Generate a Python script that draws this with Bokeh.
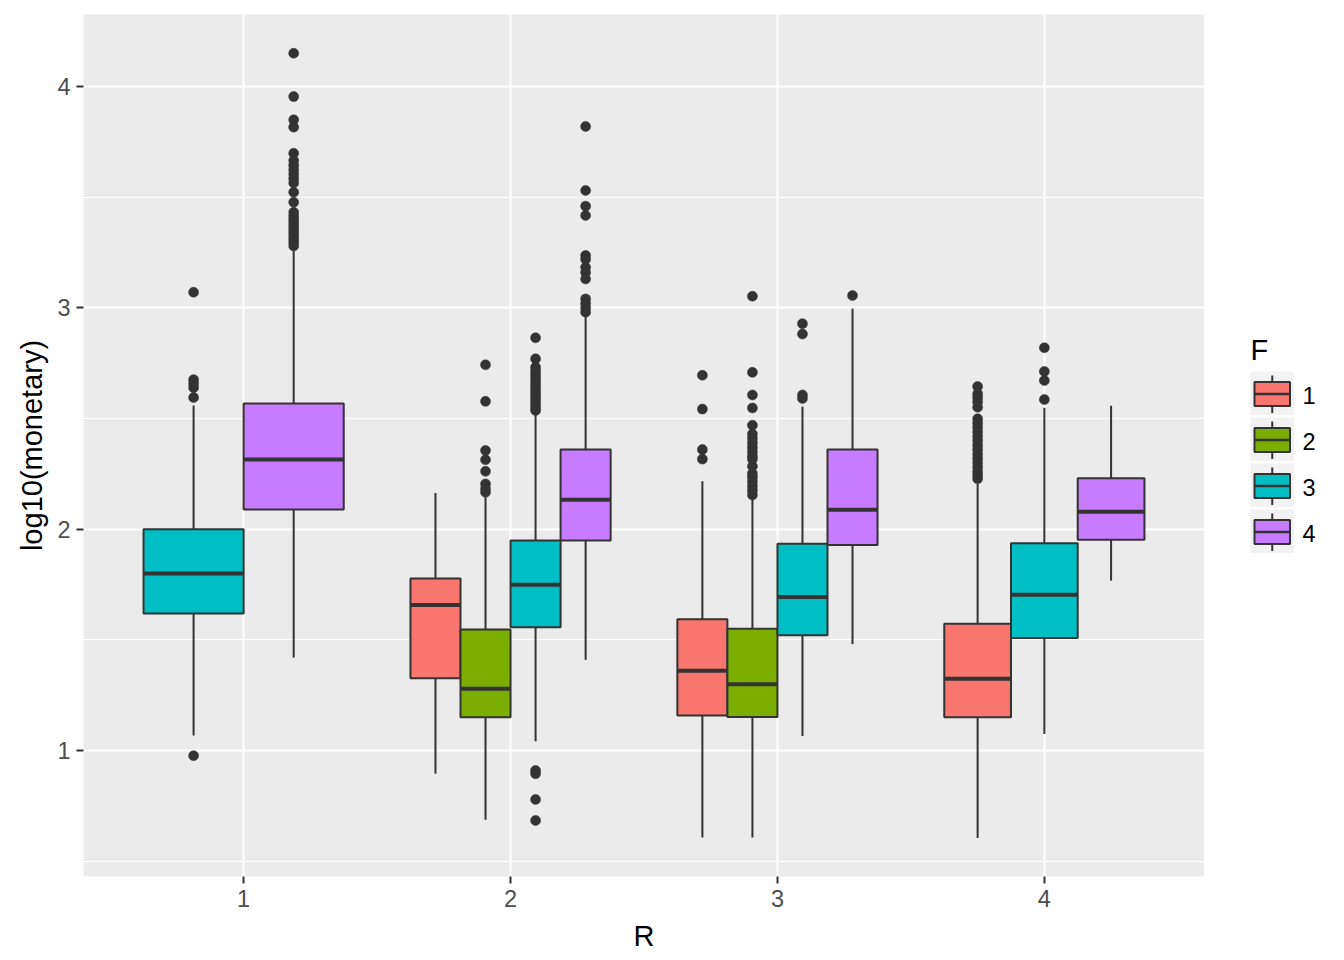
from bokeh.plotting import figure
from bokeh.models import Range1d, FixedTicker, ColumnDataSource
from bokeh.layouts import row
from bokeh.core.properties import value
from bokeh.embed import file_html
from bokeh.resources import INLINE

# ---- data ----
R_levels = ["1", "2", "3", "4"]
F_levels = ["1", "2", "3", "4"]
F_colors = ["#F8766D", "#7CAE00", "#00BFC4", "#C77CFF"]

box_R = [1, 1, 2, 2, 2, 2, 3, 3, 3, 3, 4, 4, 4]
box_F = [3, 4, 1, 2, 3, 4, 1, 2, 3, 4, 1, 3, 4]
lower = [1.068, 1.420, 0.895, 0.687, 1.042, 1.410, 0.607, 0.607, 1.066, 1.481, 0.605, 1.075, 1.768]
q1 = [1.619, 2.089, 1.327, 1.151, 1.557, 1.949, 1.158, 1.152, 1.521, 1.929, 1.151, 1.509, 1.953]
median = [1.800, 2.315, 1.658, 1.279, 1.749, 2.133, 1.361, 1.300, 1.694, 2.088, 1.324, 1.704, 2.079]
q3 = [2.000, 2.568, 1.778, 1.547, 1.949, 2.360, 1.593, 1.550, 1.934, 2.360, 1.573, 1.937, 2.230]
upper = [2.559, 3.270, 2.164, 2.145, 2.529, 2.975, 2.217, 2.148, 2.554, 2.997, 2.205, 2.549, 2.558]
outliers = [
    [3.071, 2.676, 2.658, 2.640, 2.595, 0.977],
    [4.151, 3.955, 3.850, 3.817, 3.699, 3.666, 3.645, 3.625, 3.605, 3.585, 3.565, 3.523,
     3.478, 3.432, 3.415, 3.400, 3.385, 3.370, 3.355, 3.340, 3.325, 3.310, 3.295, 3.280],
    [],
    [2.743, 2.578, 2.356, 2.314, 2.262, 2.205, 2.183, 2.167],
    [2.865, 2.770, 2.732, 2.715, 2.700, 2.685, 2.670, 2.655, 2.640, 2.625, 2.610, 2.595,
     2.580, 2.565, 2.550, 2.537, 0.910, 0.895, 0.779, 0.684],
    [3.820, 3.531, 3.460, 3.418, 3.237, 3.220, 3.184, 3.160, 3.131, 3.041, 3.020, 3.000, 2.981],
    [2.696, 2.543, 2.360, 2.317],
    [3.053, 2.709, 2.607, 2.548, 2.470, 2.430, 2.410, 2.390, 2.370, 2.350, 2.330, 2.317,
     2.285, 2.252, 2.235, 2.215, 2.195, 2.175, 2.155],
    [2.929, 2.882, 2.607, 2.591],
    [3.056],
    [2.645, 2.612, 2.595, 2.575, 2.551, 2.499, 2.480, 2.460, 2.440, 2.420, 2.400, 2.380,
     2.360, 2.340, 2.320, 2.300, 2.280, 2.260, 2.245, 2.228],
    [2.820, 2.713, 2.672, 2.586],
    [],
]

# ---- dodge positions (ggplot2 style, total width 0.75) ----
DODGE = 0.75
xs, widths = [], []
for i, r in enumerate(box_R):
    group = [j for j, rr in enumerate(box_R) if rr == r]
    n = len(group)
    k = group.index(i)
    w = DODGE / n
    xs.append(r - DODGE / 2 + (k + 0.5) * w)
    widths.append(w)

colors = [F_colors[f - 1] for f in box_F]
box_src = ColumnDataSource(dict(
    x=xs, w=widths, lower=lower, q1=q1, med=median, q3=q3, upper=upper, color=colors,
    x0=[x - w / 2 for x, w in zip(xs, widths)], x1=[x + w / 2 for x, w in zip(xs, widths)],
))
out_x, out_y = [], []
for x, vals in zip(xs, outliers):
    for v in vals:
        out_x.append(x)
        out_y.append(v)

FONT = "Liberation Sans"
DARK = "#333333"
H = 956
MAIN_W = 1204
LEG_W = 124
B_TOP, B_BOT, B_LEFT = 14, 80, 83

p = figure(width=MAIN_W, height=H,
           x_range=Range1d(0.4, 4.6), y_range=Range1d(0.431, 4.326),
           output_backend="svg", toolbar_location=None,
           min_border_left=B_LEFT, min_border_right=0, min_border_top=B_TOP, min_border_bottom=B_BOT)
p.background_fill_color = "#EBEBEB"
p.border_fill_color = "white"
p.outline_line_color = None

# grids
p.xgrid.grid_line_color = "white"
p.xgrid.grid_line_width = 2
p.ygrid.grid_line_color = "white"
p.ygrid.grid_line_width = 2
p.ygrid.minor_grid_line_color = "white"
p.ygrid.minor_grid_line_width = 1

# axes
p.xaxis.ticker = FixedTicker(ticks=[1, 2, 3, 4])
p.xaxis.major_label_overrides = {i + 1: lab for i, lab in enumerate(R_levels)}
p.yaxis.ticker = FixedTicker(ticks=[1, 2, 3, 4], minor_ticks=[0.5, 1.5, 2.5, 3.5])
p.xaxis.axis_label = "R"
p.yaxis.axis_label = "log10(monetary)"
for ax in (p.xaxis, p.yaxis):
    ax.axis_line_color = None
    ax.major_tick_line_color = DARK
    ax.major_tick_line_width = 2
    ax.major_tick_out = 7
    ax.major_tick_in = 0
    ax.minor_tick_line_color = None
    ax.major_label_text_font = FONT
    ax.major_label_text_font_size = "23.5px"
    ax.major_label_text_color = "#4D4D4D"
    ax.major_label_standoff = 6
    ax.axis_label_text_font = FONT
    ax.axis_label_text_font_size = "29px"
    ax.axis_label_text_font_style = "normal"
    ax.axis_label_text_color = "black"
p.xaxis.axis_label_standoff = 10
p.yaxis.axis_label_standoff = 6

# boxplots
p.segment(x0="x", y0="q3", x1="x", y1="upper", source=box_src, line_color=DARK, line_width=2)
p.segment(x0="x", y0="lower", x1="x", y1="q1", source=box_src, line_color=DARK, line_width=2)
p.vbar(x="x", width="w", bottom="q1", top="q3", source=box_src,
       fill_color="color", line_color=DARK, line_width=2)
p.segment(x0="x0", y0="med", x1="x1", y1="med", source=box_src, line_color=DARK, line_width=4)
p.scatter(out_x, out_y, size=10, fill_color=DARK, line_color=DARK, line_width=0.5)

# ---- legend panel (ggplot-style keys), in pixel units of the page ----
lg = figure(width=LEG_W, height=H, x_range=Range1d(MAIN_W, MAIN_W + LEG_W),
            y_range=Range1d(H - B_BOT, B_TOP),
            output_backend="svg", toolbar_location=None, x_axis_type=None, y_axis_type=None,
            min_border_left=0, min_border_right=0, min_border_top=B_TOP, min_border_bottom=B_BOT)
lg.grid.visible = False
lg.outline_line_color = None
lg.background_fill_color = "white"
lg.border_fill_color = "white"

KEY_LEFT, KEY_SIZE, KEY_TOP, KEY_STEP = 1250, 43.5, 371, 46
n = len(F_levels)
tops = [KEY_TOP + KEY_STEP * i for i in range(n)]
key_src = ColumnDataSource(dict(
    gl=[KEY_LEFT] * n, gr=[KEY_LEFT + KEY_SIZE] * n,
    gt=tops, gb=[t + KEY_SIZE for t in tops],
    cx=[KEY_LEFT + KEY_SIZE / 2] * n,
    wt=[t + 4 for t in tops], wb=[t + 41.5 for t in tops],
    bl=[KEY_LEFT + 4] * n, br=[KEY_LEFT + 39.5] * n,
    bt=[t + 10.5 for t in tops], bb=[t + 34.5 for t in tops],
    mid=[t + 22.5 for t in tops],
    color=F_colors, label=F_levels,
    lx=[KEY_LEFT + 52] * n, ly=[t + 23.5 for t in tops],
))
lg.quad(left="gl", right="gr", top="gt", bottom="gb", source=key_src,
        fill_color="#F2F2F2", line_color=None)
lg.segment(x0="cx", y0="wt", x1="cx", y1="wb", source=key_src, line_color=DARK, line_width=2)
lg.quad(left="bl", right="br", top="bt", bottom="bb", source=key_src,
        fill_color="color", line_color=DARK, line_width=2)
lg.segment(x0="bl", y0="mid", x1="br", y1="mid", source=key_src, line_color=DARK, line_width=2.5)
lg.text(x="lx", y="ly", text="label", source=key_src, text_font=value(FONT),
        text_font_size="23.5px", text_color="black", text_baseline="middle", text_align="left")
lg.text(x=[KEY_LEFT], y=[349.5], text=["F"], text_font=value(FONT), text_font_size="29px",
        text_color="black", text_baseline="middle", text_align="left")

layout = row(p, lg, spacing=0)
open("out.html", "w").write(file_html(layout, INLINE))
